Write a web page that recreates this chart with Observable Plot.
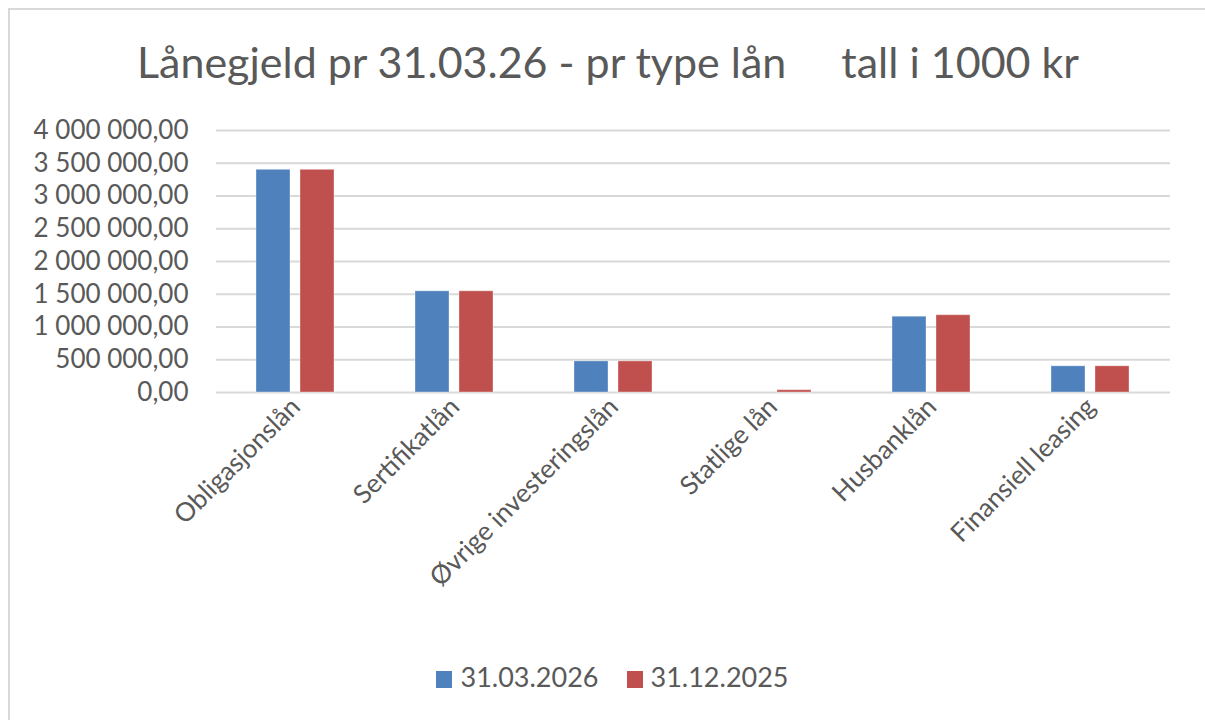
<!DOCTYPE html>
<html><head><meta charset="utf-8">
<script src="https://cdn.jsdelivr.net/npm/d3@7"></script>
<script src="https://cdn.jsdelivr.net/npm/@observablehq/plot@0.6"></script>
<style>
body{margin:0;background:#fff;font-family:Lato,"Open Sans",sans-serif;}
#frame{position:absolute;left:8px;top:8px;width:1200px;height:720px;border-left:2px solid #d9d9d9;border-top:2px solid #d9d9d9;box-sizing:border-box;}
#title{position:absolute;left:0;width:1216px;top:36px;text-align:center;font-size:43px;color:#595959;white-space:pre;}
#chart{position:absolute;left:0;top:110px;}
#legend{position:absolute;left:0;width:1225px;top:660px;text-align:center;font-size:27px;color:#595959;}
#legend span.sw{display:inline-block;width:16px;height:17px;margin-right:8px;vertical-align:-1px;}
#legend span.item{margin:0 14px;}
</style></head>
<body>
<div id="frame"></div>
<div id="title">Lånegjeld pr 31.03.26 - pr type lån     tall i 1000 kr</div>
<div id="chart"></div>
<div id="legend"></div>
<script>
const categories = ["Obligasjonslån","Sertifikatlån","Øvrige investeringslån","Statlige lån","Husbanklån","Finansiell leasing"];
const seriesNames = ["31.03.2026","31.12.2025"];
const values2026 = [3400000, 1545000, 475000, 0, 1157000, 400000];
const values2025 = [3400000, 1545000, 475000, 35000, 1180000, 400000];
const yTicks = [0,500000,1000000,1500000,2000000,2500000,3000000,3500000,4000000];
const colors = ["#4f81bd","#c0504d"];

const data = [];
categories.forEach((c,i)=>{
  data.push({category:c, series:seriesNames[0], value:values2026[i]});
  data.push({category:c, series:seriesNames[1], value:values2025[i]});
});
const loc = d3.formatLocale({decimal:",", thousands:" ", grouping:[3], currency:["",""]});
const fmt = loc.format(",.2f");

const chart = Plot.plot({
  width:1205, height:522,
  marginLeft:215, marginRight:35, marginTop:20, marginBottom:240,
  style:{fontFamily:"Lato, 'Open Sans', sans-serif", color:"#595959", background:"transparent"},
  fx:{domain:categories, padding:0, label:null},
  x:{domain:seriesNames, paddingInner:0.222, paddingOuter:0.878, axis:null},
  y:{domain:[0,4000000], label:null, axis:null},
  color:{domain:seriesNames, range:colors},
  marks:[
    Plot.ruleY(yTicks, {stroke:"#d9d9d9", strokeWidth:2}),
    Plot.axisY(yTicks, {anchor:"left", tickSize:0, tickPadding:28, tickFormat:fmt, fontSize:26, fill:"#595959", label:null}),
    Plot.barY(data, {fx:"category", x:"series", y:"value", fill:"series", stroke:"#ffffff", strokeOpacity:0.35, strokeWidth:1}),
    Plot.axisFx({anchor:"bottom", tickRotate:-45, tickSize:0, tickPadding:10, fontSize:26, fill:"#595959", label:null})
  ]
});
document.getElementById("chart").appendChild(chart);

const lg = document.getElementById("legend");
seriesNames.forEach((s,i)=>{
  const it = document.createElement("span"); it.className="item";
  const sw = document.createElement("span"); sw.className="sw"; sw.style.background=colors[i];
  it.appendChild(sw); it.appendChild(document.createTextNode(s));
  lg.appendChild(it);
});
</script>
</body></html>
